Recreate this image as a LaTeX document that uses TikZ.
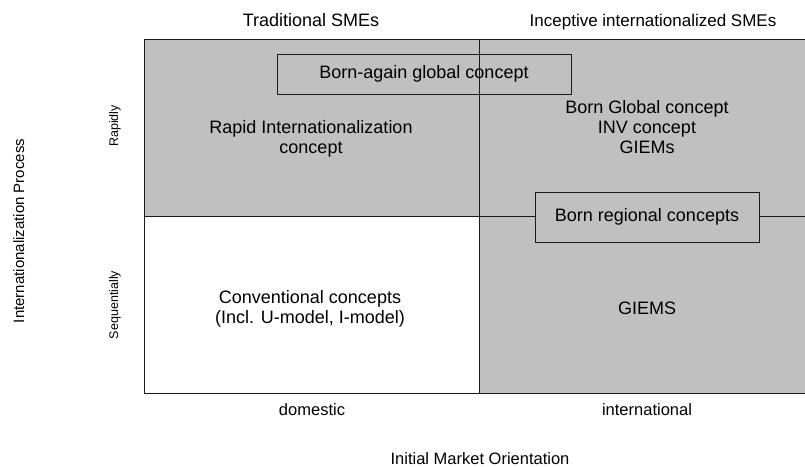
\documentclass[tikz,border=0pt]{standalone}
\usepackage{fontspec}
\setmainfont{Liberation Sans}
\definecolor{quadgray}{HTML}{C0C0C0}
\definecolor{edgeclr}{HTML}{1A1A1A}
\begin{document}
\begin{tikzpicture}[x=1pt,y=-1pt,
  frameline/.style={draw=edgeclr, line width=0.9pt},
  body/.style={font=\fontsize{18}{19.75}\selectfont, align=center, inner sep=0pt},
  head/.style={font=\fontsize{18}{20}\selectfont, inner sep=0pt, anchor=base},
  axislabel/.style={font=\fontsize{16.5}{18}\selectfont, inner sep=0pt, anchor=base},
  sidelabel/.style={font=\fontsize{15}{17}\selectfont, inner sep=0pt, anchor=base, rotate=90},
  ticklabel/.style={font=\fontsize{12.5}{14}\selectfont, inner sep=0pt, anchor=base, rotate=90},
  conceptbox/.style={draw=edgeclr, line width=0.9pt, font=\fontsize{18}{20}\selectfont, inner sep=0pt}
]
\useasboundingbox (0,0) rectangle (805,466);
% quadrants
\fill[quadgray] (144,39) rectangle (479,216.5);
\fill[quadgray] (479,39) rectangle (805,393);
\fill[white] (144,216.5) rectangle (479,393);
\draw[frameline] (805,39) -- (144,39) -- (144,393) -- (805,393);
\draw[frameline] (144,216.5) -- (805,216.5);
% column headings
\node[head] (trad) at (311,26) {Traditional SMEs};
\node[head, font=\fontsize{17}{20}\selectfont] (incep) at (653,26) {Inceptive internationalized SMEs};
% boxes
\node[conceptbox, minimum width=294pt, minimum height=40pt] (bornagain) at (424,74) {Born-again global concept};
\node[conceptbox, fill=quadgray, minimum width=224pt, minimum height=50pt] (bornregional) at (647,217) {Born regional concepts};
% vertical divider drawn over the born-again box
\draw[frameline] (479,39) -- (479,393);
% quadrant texts
\node[body] (rapid) at (311,138.5) {Rapid Internationalization\\concept};
\node[body] (bornglobal) at (647,127) {Born Global concept\\INV concept\\GIEMs};
\node[body] (conventional) at (310,309) {Conventional concepts\\(Incl. U-model, I-model)};
\node[body] (giems) at (647,308) {GIEMS};
% axis labels
\node[axislabel] (domestic) at (312,415) {domestic};
\node[axislabel] (international) at (647,415) {international};
\node[axislabel] (orientation) at (480,464) {Initial Market Orientation};
\node[sidelabel] (process) at (24,231) {Internationalization Process};
\node[ticklabel] (rapidly) at (118,126) {Rapidly};
\node[ticklabel] (sequentially) at (118,305) {Sequentially};
\end{tikzpicture}
\end{document}
